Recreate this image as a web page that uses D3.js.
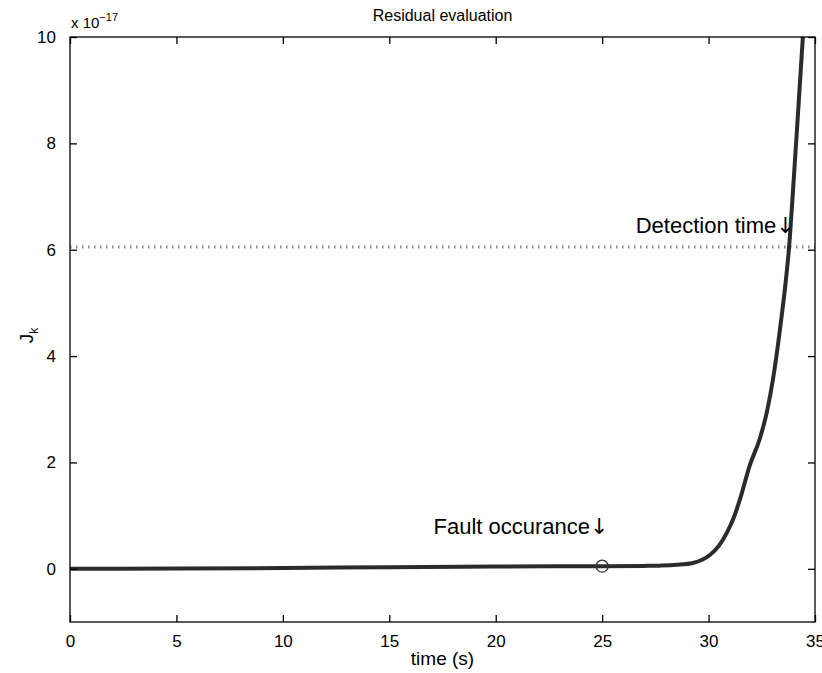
<!DOCTYPE html>
<html>
<head>
<meta charset="utf-8">
<script src="https://cdn.jsdelivr.net/npm/d3@7"></script>
<style>
  body { margin: 0; background: #fff; }
  svg { font-family: "Liberation Sans", Arial, sans-serif; }
</style>
</head>
<body>
<svg id="chart" width="822" height="673"></svg>
<script>
// residual J_k (units of 1e-17) over time
const timeS = [0, 2, 5, 10, 15, 20, 25, 27, 27.7, 28.5, 29.26, 29.7, 30.06, 30.5, 30.86, 31.2, 31.47, 31.94, 32.41, 32.74, 33.02, 33.35, 33.82, 34.05, 34.43, 34.6]
const residual = [0, 0.002, 0.006, 0.015, 0.03, 0.042, 0.05, 0.055, 0.06, 0.075, 0.11, 0.17, 0.26, 0.44, 0.68, 0.98, 1.30, 1.95, 2.45, 2.95, 3.55, 4.49, 6.24, 7.63, 10.0, 11.2]
const threshold = 6.05
const faultTime = 25
const xTicks = [0, 5, 10, 15, 20, 25, 30, 35]
const yTicks = [0, 2, 4, 6, 8, 10]

const svg = d3.select("#chart")
const m = { left: 70, right: 815, top: 37, bottom: 622 }

const x = d3.scaleLinear().domain([0, 35]).range([m.left, m.right])
const y = d3.scaleLinear().domain([-1, 10]).range([m.bottom, m.top])

// clip so the curve stops at the frame
svg.append("clipPath").attr("id", "plot-clip")
  .append("rect")
  .attr("x", m.left).attr("y", m.top)
  .attr("width", m.right - m.left).attr("height", m.bottom - m.top)

// threshold line
svg.append("line")
  .attr("x1", x(0)).attr("x2", x(35))
  .attr("y1", y(threshold)).attr("y2", y(threshold))
  .attr("stroke", "#888")
  .attr("stroke-width", 3)
  .attr("stroke-dasharray", "1.5,4.5")

// residual curve
const data = timeS.map((t, i) => [t, residual[i]])
svg.append("path")
  .datum(data)
  .attr("clip-path", "url(#plot-clip)")
  .attr("d", d3.line().x(d => x(d[0])).y(d => y(d[1])).curve(d3.curveMonotoneX))
  .attr("fill", "none")
  .attr("stroke", "#2b2b2b")
  .attr("stroke-width", 4)

// fault marker
const faultIdx = timeS.indexOf(faultTime)
svg.append("circle")
  .attr("cx", x(faultTime)).attr("cy", y(residual[faultIdx]))
  .attr("r", 6)
  .attr("fill", "none")
  .attr("stroke", "#333")
  .attr("stroke-width", 1.3)

// frame
svg.append("rect")
  .attr("x", m.left).attr("y", m.top)
  .attr("width", m.right - m.left).attr("height", m.bottom - m.top)
  .attr("fill", "none").attr("stroke", "#000").attr("stroke-width", 1.3)

// axes, ticks pointing inwards and mirrored on the opposite side
const tickLen = 7
const fmt = d3.format("d")
svg.append("g")
  .attr("transform", `translate(0,${m.bottom})`)
  .call(d3.axisBottom(x).tickValues(xTicks).tickSizeInner(-tickLen).tickSizeOuter(0).tickPadding(13).tickFormat(fmt))
svg.append("g")
  .attr("transform", `translate(0,${m.top})`)
  .call(d3.axisTop(x).tickValues(xTicks).tickSizeInner(-tickLen).tickSizeOuter(0).tickFormat(""))
svg.append("g")
  .attr("transform", `translate(${m.left},0)`)
  .call(d3.axisLeft(y).tickValues(yTicks).tickSizeInner(-tickLen).tickSizeOuter(0).tickPadding(14).tickFormat(fmt))
svg.append("g")
  .attr("transform", `translate(${m.right},0)`)
  .call(d3.axisRight(y).tickValues(yTicks).tickSizeInner(-tickLen).tickSizeOuter(0).tickFormat(""))

svg.selectAll(".domain").remove()
svg.selectAll(".tick line").attr("stroke", "#000").attr("stroke-width", 1.3)
svg.selectAll(".tick text")
  .attr("font-size", 17)
  .attr("font-family", "'Liberation Sans', Arial, sans-serif")
  .attr("fill", "#000")

// exponent label
const expo = svg.append("text")
  .attr("x", m.left + 1).attr("y", m.top - 9)
  .attr("font-size", 15)
expo.append("tspan").text("x 10")
expo.append("tspan").attr("dy", -7).attr("font-size", 11).text("−17")

// title and axis labels
svg.append("text")
  .attr("x", (m.left + m.right) / 2).attr("y", 21)
  .attr("text-anchor", "middle")
  .attr("font-size", 16)
  .text("Residual evaluation")

svg.append("text")
  .attr("x", (m.left + m.right) / 2).attr("y", 665)
  .attr("text-anchor", "middle")
  .attr("font-size", 19)
  .text("time (s)")

const yl = svg.append("text")
  .attr("transform", `translate(33,${(m.top + m.bottom) / 2 + 6}) rotate(-90)`)
  .attr("text-anchor", "middle")
  .attr("font-size", 19)
yl.append("tspan").text("J")
yl.append("tspan").attr("dy", 5).attr("font-size", 12).text("k")

// annotations, arrow drawn in a font with a long stem
function note(px, py, label) {
  const t = svg.append("text")
    .attr("x", px).attr("y", py)
    .attr("text-anchor", "end")
    .attr("font-size", 22)
  t.append("tspan").text(label)
  t.append("tspan").attr("font-family", "'DejaVu Sans', sans-serif").attr("font-size", 22).text("↓")
}
note(x(34.05), 233, "Detection time")
note(x(25.3), 534, "Fault occurance")
</script>
</body>
</html>
